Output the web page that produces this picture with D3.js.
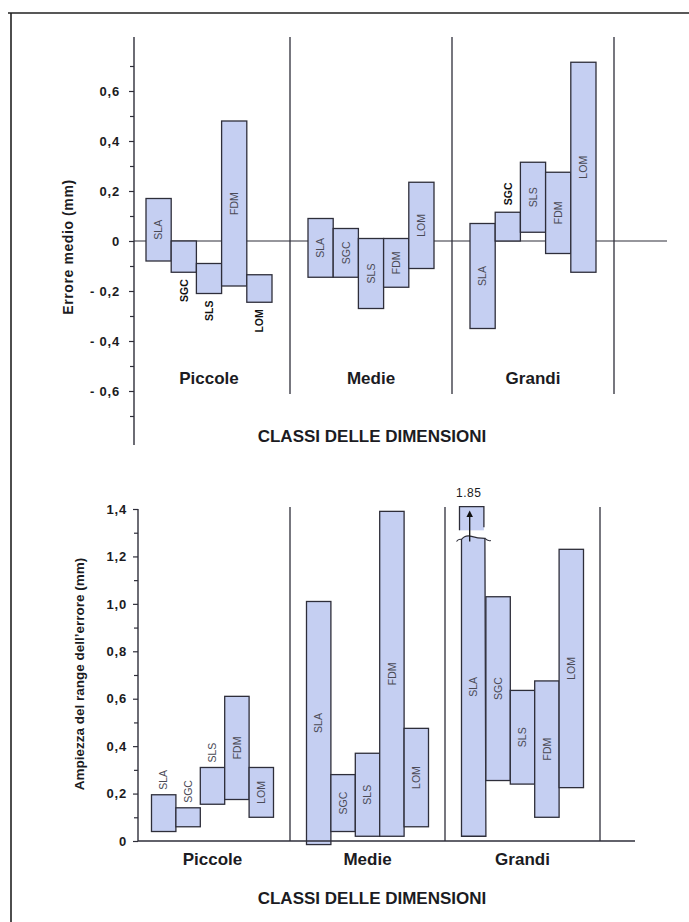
<!DOCTYPE html>
<html>
<head>
<meta charset="utf-8">
<script src="https://cdn.jsdelivr.net/npm/d3@7"></script>
<style>
  body { margin: 0; background: #fff; }
  svg text { font-family: "Liberation Sans", Arial, Helvetica, sans-serif; }
</style>
</head>
<body>
<div id="chart"></div>
<script>
const methods = ["SLA", "SGC", "SLS", "FDM", "LOM"];
const classes = ["Piccole", "Medie", "Grandi"];
const xTitle = "CLASSI DELLE DIMENSIONI";

// errore medio: estremi superiore e inferiore di ogni barra (mm)
const errHigh = [
  [0.17, 0, -0.09, 0.48, -0.135],
  [0.09, 0.05, 0.01, 0.01, 0.235],
  [0.07, 0.115, 0.315, 0.275, 0.715]
];
const errLow = [
  [-0.08, -0.125, -0.21, -0.18, -0.245],
  [-0.145, -0.145, -0.27, -0.185, -0.11],
  [-0.35, 0, 0.035, -0.05, -0.125]
];
const errLabelPos = [
  ["in", "below", "below", "in", "below"],
  ["in", "in", "in", "in", "in"],
  ["in", "above", "in", "in", "in"]
];
const errTitle = "Errore medio (mm)";
const errMajorTicks = [0.6, 0.4, 0.2, 0, -0.2, -0.4, -0.6];
const errMinorTicks = [0.7, 0.5, 0.3, 0.1, -0.1, -0.3, -0.5, -0.7];

// ampiezza del range dell'errore (mm)
const rangeHigh = [
  [0.195, 0.14, 0.31, 0.61, 0.31],
  [1.01, 0.28, 0.37, 1.39, 0.475],
  [1.85, 1.03, 0.635, 0.675, 1.23]
];
const rangeLow = [
  [0.04, 0.06, 0.155, 0.175, 0.1],
  [-0.015, 0.04, 0.02, 0.02, 0.06],
  [0.02, 0.255, 0.24, 0.1, 0.225]
];
const rangeLabelPos = [
  ["above", "above", "above", "in", "in"],
  ["in", "in", "in", "in", "in"],
  ["in", "in", "in", "in", "in"]
];
const rangeTitle = "Ampiezza del range dell\u2019errore (mm)";
const rangeMajorTicks = [1.4, 1.2, 1.0, 0.8, 0.6, 0.4, 0.2, 0];
const rangeMinorTicks = [1.3, 1.1, 0.9, 0.7, 0.5, 0.3, 0.1];
const rangeCut = 1.28; // bars above the axis top are broken here

const W = 689, H = 922;
const fill = "#c5cff2", stroke = "#2e2e3a", ink = "#1b1b22";

const svg = d3.select("#chart").append("svg")
  .attr("width", W).attr("height", H);

svg.append("defs").append("marker")
  .attr("id", "arrow")
  .attr("viewBox", "0 0 10 10")
  .attr("refX", 5).attr("refY", 5)
  .attr("markerWidth", 5).attr("markerHeight", 5)
  .attr("orient", "auto")
  .append("path")
  .attr("d", "M0,0 L10,5 L0,10 Z")
  .attr("fill", "#111");

// page frame
svg.append("path")
  .attr("d", `M8,13 L${W},13 M11,13 L11,${H}`)
  .attr("fill", "none").attr("stroke", "#222").attr("stroke-width", 1.6);

const fmt = d => d === 0 ? "0" : (d < 0 ? "- " : "") + Math.abs(d).toFixed(1).replace(".", ",");

function drawAxis(g, y, axisX, major, minor, pad, top, bottom) {
  g.append("line")
    .attr("x1", axisX).attr("x2", axisX)
    .attr("y1", top).attr("y2", bottom)
    .attr("stroke", stroke).attr("stroke-width", 1.4);

  const ax = g.append("g")
    .attr("transform", `translate(${axisX},0)`)
    .call(d3.axisLeft(y).tickValues(major).tickSize(5).tickPadding(pad).tickFormat(fmt));
  ax.select(".domain").remove();
  ax.selectAll("line").attr("stroke", stroke).attr("stroke-width", 1.2);
  ax.selectAll("text")
    .attr("fill", ink)
    .style("font-size", "13px")
    .style("font-weight", "bold")
    .style("letter-spacing", "0.8px");

  const mi = g.append("g")
    .attr("transform", `translate(${axisX},0)`)
    .call(d3.axisLeft(y).tickValues(minor).tickSize(4).tickFormat(""));
  mi.select(".domain").remove();
  mi.selectAll("line").attr("stroke", stroke).attr("stroke-width", 1.2);
}

function barLabel(g, text, cx, yTop, yBot, pos, gap, bold) {
  let yy, anchor;
  if (pos === "in") { yy = (yTop + yBot) / 2; anchor = "middle"; }
  else if (pos === "below") { yy = yBot + gap; anchor = "end"; }
  else { yy = yTop - gap; anchor = "start"; }
  g.append("text")
    .attr("transform", `translate(${cx},${yy}) rotate(-90)`)
    .attr("dy", "0.36em")
    .attr("text-anchor", anchor)
    .attr("fill", bold ? "#111" : "#4a4a55")
    .style("font-size", "10.5px")
    .style("font-weight", bold ? "bold" : "normal")
    .text(text);
}

// ---------- top chart: errore medio ----------
const gTop = svg.append("g");
const yErr = d3.scaleLinear().domain([-0.6, 0.6]).range([391, 91]);
const xClassTop = d3.scaleBand().domain(classes).range([128, 614]);
const xMethodTop = d3.scaleBand().domain(methods).range([0, 126]);
const offTop = (xClassTop.bandwidth() - 126) / 2;

// separators
classes.forEach(c => {
  gTop.append("line")
    .attr("x1", xClassTop(c) + xClassTop.bandwidth())
    .attr("x2", xClassTop(c) + xClassTop.bandwidth())
    .attr("y1", 37).attr("y2", 394)
    .attr("stroke", stroke).attr("stroke-width", 1.3);
});

// zero line
gTop.append("line")
  .attr("x1", 134).attr("x2", 667)
  .attr("y1", yErr(0)).attr("y2", yErr(0))
  .attr("stroke", stroke).attr("stroke-width", 1.2);

classes.forEach((c, i) => {
  methods.forEach((m, j) => {
    const x0 = xClassTop(c) + offTop + xMethodTop(m);
    const y0 = yErr(errHigh[i][j]), y1 = yErr(errLow[i][j]);
    gTop.append("rect")
      .attr("x", x0).attr("y", y0)
      .attr("width", xMethodTop.bandwidth()).attr("height", y1 - y0)
      .attr("fill", fill).attr("stroke", stroke).attr("stroke-width", 1.3);
    const pos = errLabelPos[i][j];
    barLabel(gTop, m, x0 + xMethodTop.bandwidth() / 2, y0, y1, pos, pos === "in" ? 0 : 7, pos !== "in");
  });
  gTop.append("text")
    .attr("x", xClassTop(c) + xClassTop.bandwidth() / 2)
    .attr("y", 384)
    .attr("text-anchor", "middle")
    .attr("fill", ink)
    .style("font-size", "17px").style("font-weight", "bold")
    .text(c);
});

drawAxis(gTop, yErr, 134, errMajorTicks, errMinorTicks, 9, 37, 445);

gTop.append("text")
  .attr("transform", `translate(68,247) rotate(-90)`)
  .attr("dy", "0.36em")
  .attr("text-anchor", "middle")
  .attr("fill", ink)
  .style("font-size", "14px").style("font-weight", "bold")
  .style("letter-spacing", "0.6px")
  .text(errTitle);

gTop.append("text")
  .attr("x", 372).attr("y", 442)
  .attr("text-anchor", "middle")
  .attr("fill", ink)
  .style("font-size", "17px").style("font-weight", "bold")
  .text(xTitle);

// ---------- bottom chart: ampiezza del range ----------
const gBot = svg.append("g");
const yRange = d3.scaleLinear().domain([0, 1.4]).range([841, 509]);
const xClassBot = d3.scaleBand().domain(classes).range([135, 600]);
const xMethodBot = d3.scaleBand().domain(methods).range([0, 122]);
const offBot = (xClassBot.bandwidth() - 122) / 2;

classes.forEach(c => {
  gBot.append("line")
    .attr("x1", xClassBot(c) + xClassBot.bandwidth())
    .attr("x2", xClassBot(c) + xClassBot.bandwidth())
    .attr("y1", 507).attr("y2", yRange(0))
    .attr("stroke", stroke).attr("stroke-width", 1.3);
});

classes.forEach((c, i) => {
  methods.forEach((m, j) => {
    const x0 = xClassBot(c) + offBot + xMethodBot(m);
    const bw = xMethodBot.bandwidth();
    const hi = rangeHigh[i][j];
    const y1 = yRange(rangeLow[i][j]);
    let y0 = yRange(hi);
    if (hi > yRange.domain()[1]) {
      // broken bar with wavy top, arrow and off-scale value
      y0 = yRange(rangeCut);
      gBot.append("path")
        .attr("d", `M${x0},${y1} L${x0},${y0 + 2} Q${x0 + 4},${y0 - 3} ${x0 + 10},${y0 - 1} T${x0 + bw - 1},${y0 + 1} L${x0 + bw},${y1} Z`)
        .attr("fill", fill).attr("stroke", stroke).attr("stroke-width", 1.3);
      gBot.append("path")
        .attr("d", `M${x0 - 5},${y0 + 4} Q${x0 - 3},${y0 + 1} ${x0},${y0 + 2} M${x0 + bw - 1},${y0 + 1} Q${x0 + bw + 2},${y0 + 4} ${x0 + bw + 5},${y0 + 3}`)
        .attr("fill", "none").attr("stroke", stroke).attr("stroke-width", 1.1);
      const bTop = yRange(rangeCut + 0.13), bBot = yRange(rangeCut + 0.03);
      gBot.append("rect")
        .attr("x", x0 - 2).attr("y", bTop)
        .attr("width", bw).attr("height", bBot - bTop)
        .attr("fill", fill);
      gBot.append("path")
        .attr("d", `M${x0 - 2},${bBot} L${x0 - 2},${bTop} L${x0 + bw - 2},${bTop} L${x0 + bw - 2},${bBot - 3}`)
        .attr("fill", "none").attr("stroke", stroke).attr("stroke-width", 1.3);
      gBot.append("line")
        .attr("x1", x0 + bw / 2 - 4).attr("x2", x0 + bw / 2 - 4)
        .attr("y1", y0 + 4).attr("y2", bTop + 7)
        .attr("stroke", "#111").attr("stroke-width", 1.3)
        .attr("marker-end", "url(#arrow)");
      gBot.append("text")
        .attr("x", x0 + bw / 2 - 5).attr("y", bTop - 10)
        .attr("text-anchor", "middle")
        .attr("fill", ink)
        .style("font-size", "12px").style("letter-spacing", "0.5px")
        .text(d3.format(".2f")(hi));
    } else {
      gBot.append("rect")
        .attr("x", x0).attr("y", y0)
        .attr("width", bw).attr("height", y1 - y0)
        .attr("fill", fill).attr("stroke", stroke).attr("stroke-width", 1.3);
    }
    const pos = rangeLabelPos[i][j];
    barLabel(gBot, m, x0 + bw / 2, y0, y1, pos, pos === "in" ? 0 : 5, false);
  });
  gBot.append("text")
    .attr("x", xClassBot(c) + xClassBot.bandwidth() / 2)
    .attr("y", 865)
    .attr("text-anchor", "middle")
    .attr("fill", ink)
    .style("font-size", "17px").style("font-weight", "bold")
    .text(c);
});

// baseline
gBot.append("line")
  .attr("x1", 138).attr("x2", 635)
  .attr("y1", yRange(0)).attr("y2", yRange(0))
  .attr("stroke", stroke).attr("stroke-width", 1.3);

drawAxis(gBot, yRange, 138, rangeMajorTicks, rangeMinorTicks, 6, yRange(1.4), yRange(0));

gBot.append("text")
  .attr("transform", `translate(79,674) rotate(-90)`)
  .attr("dy", "0.36em")
  .attr("text-anchor", "middle")
  .attr("fill", ink)
  .style("font-size", "13.5px").style("font-weight", "bold")
  .text(rangeTitle);

gBot.append("text")
  .attr("x", 372).attr("y", 904)
  .attr("text-anchor", "middle")
  .attr("fill", ink)
  .style("font-size", "17px").style("font-weight", "bold")
  .text(xTitle);
</script>
</body>
</html>
